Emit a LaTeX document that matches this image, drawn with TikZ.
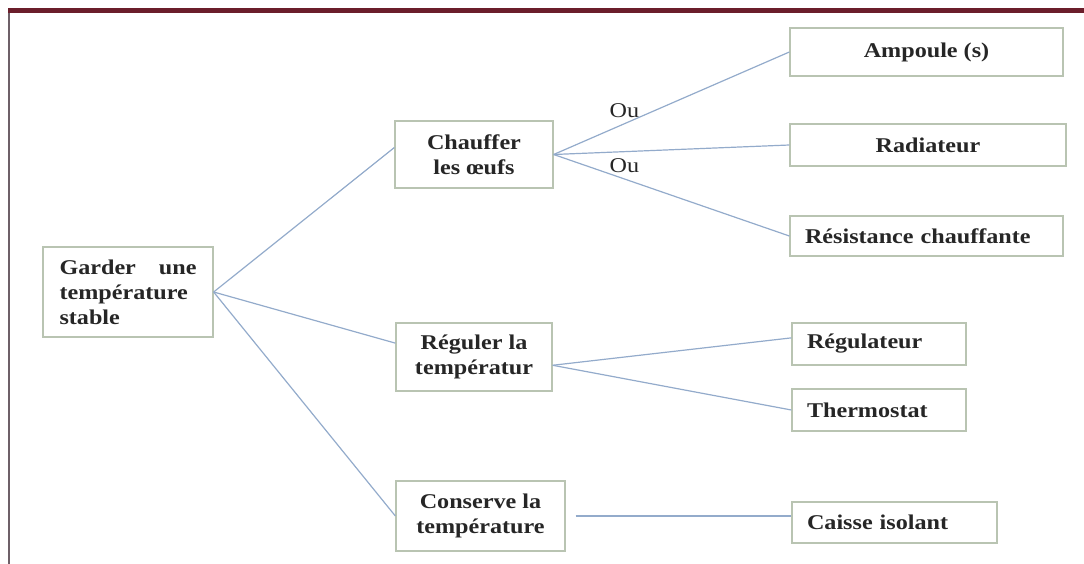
\documentclass[tikz,border=0pt]{standalone}
\usepackage{fontspec}
\setmainfont{Liberation Serif}[FakeStretch=1.15]
\usepackage{tikz}
\usetikzlibrary{positioning}
\definecolor{framered}{HTML}{6B1E2B}
\definecolor{framegray}{HTML}{6E6068}
\definecolor{boxline}{HTML}{B9C4B2}
\definecolor{linkblue}{HTML}{93ABCB}
\definecolor{txtdark}{HTML}{262626}

\begin{document}
\begin{tikzpicture}[x=1pt,y=-1pt,font=\fontsize{21}{25}\selectfont\bfseries,text=txtdark,
 fbox/.style={rectangle,draw=boxline,line width=1.3pt,fill=white,inner sep=0pt,align=center},
 leaf/.style={fbox,align=left,inner xsep=15pt,minimum height=42pt},
 link/.style={draw=linkblue,line width=1.2pt},
 ou/.style={font=\fontsize{21}{25}\selectfont\mdseries}]
\useasboundingbox (0,0) rectangle (1084,564);
\fill[framered] (8,8) rectangle (1084,13);
\draw[framegray,line width=2pt] (9,13) -- (9,564);
\node[fbox,minimum width=170pt,minimum height=90pt,text width=137pt,align=left] (garder) at (128,292) {\makebox[137pt]{Garder\hfill une}\\température\\stable};
\node[fbox,minimum width=158pt,minimum height=67pt] (chauf) at (474,154.5) {Chauffer\\les œufs};
\node[fbox,minimum width=156pt,minimum height=68pt] (regl) at (474,357) {Réguler la\\températur};
\node[fbox,minimum width=169pt,minimum height=70pt] (cons) at (480.5,516) {Conserve la\\température};
\node[fbox,minimum width=273pt,minimum height=48pt] (amp) at (926.5,52) {Ampoule (s)};
\node[fbox,minimum width=276pt,minimum height=42pt] (rad) at (928,145) {Radiateur};
\node[leaf,text width=243pt,minimum height=40pt] (res) at (926.5,236) {Résistance chauffante};
\node[leaf,text width=144pt] (regu) at (879,344) {Régulateur};
\node[leaf,text width=144pt] (thermo) at (879,410) {Thermostat};
\node[leaf,text width=175pt,minimum height=41pt] (caisse) at (894.5,522.5) {Caisse isolant};
\draw[link] (garder.east) -- (chauf.175);
\draw[link] (garder.east) -- (regl.170);
\draw[link] (garder.east) -- (cons.west);
\draw[link] (chauf.east) -- node[ou,pos=0.3,above=2pt]{Ou} (amp.west);
\draw[link] (chauf.east) -- (rad.west);
\draw[link] (chauf.east) -- node[ou,pos=0.3,above=2pt]{Ou} (res.west);
\draw[link] (regl.354) -- (regu.176);
\draw[link] (regl.354) -- (thermo.west);
\draw[link,shorten <=10pt] (cons.east) -- (cons.east -| caisse.west);
\end{tikzpicture}
\end{document}
